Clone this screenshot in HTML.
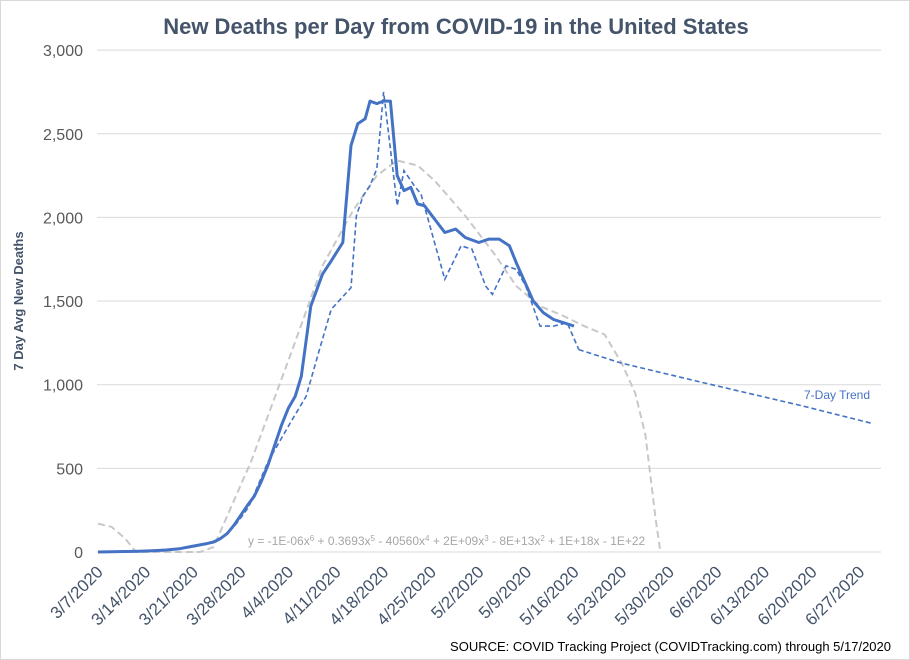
<!DOCTYPE html>
<html><head><meta charset="utf-8"><style>
body{margin:0;background:#fff;font-family:"Liberation Sans",sans-serif}
#wrap{width:908px;height:658px;border:1px solid #d9d9d9;position:relative;overflow:hidden}
</style></head><body>
<div id="wrap">
<svg id="chart" width="910" height="660"></svg>
</div>
<script>
const ticks=[0,500,1000,1500,2000,2500,3000];
const dateLabels=["3/7/2020","3/14/2020","3/21/2020","3/28/2020","4/4/2020","4/11/2020","4/18/2020","4/25/2020","5/2/2020","5/9/2020","5/16/2020","5/23/2020","5/30/2020","6/6/2020","6/13/2020","6/20/2020","6/27/2020"];
const avgDays=[0,2,4,6,8,10,12,14,16,17,18,19,20,21,22,23,24,25,26,27,28,29,29.9,31.3,33,34.3,36,37.2,38.2,39.3,40,41,42,43,44,45,46,47,48,51,52.6,54,56,57.5,59,60.5,61.5,64,65.5,67,70];
const avgVals=[0,1,3,5,8,12,20,35,50,60,80,110,160,220,280,335,420,520,640,760,860,930,1050,1470,1660,1740,1850,2430,2560,2590,2695,2680,2695,2695,2250,2160,2180,2080,2070,1910,1930,1880,1850,1870,1870,1830,1730,1500,1430,1390,1350];
const dailyDays=[0,5,10,14,17,18,20,22,22.5,25,28.4,30.6,32.5,34.3,37.2,38,39,40,41,42,44,45,46.5,47.5,51,53.4,55,57,58,60,61.5,62.9,65,67,69,70.7];
const dailyVals=[0,2,8,30,60,80,150,260,300,540,780,930,1200,1450,1580,2010,2130,2190,2290,2750,2070,2280,2190,2140,1630,1830,1810,1590,1540,1710,1690,1590,1350,1350,1370,1210];
const trendDays=[70.7,76.9,88.7,103.4,113.7];
const trendVals=[1210,1130,1015,875,770];
const polyDays=[0,2,4,5.6,15,17,22.5,28.5,33,37.5,41,44,47,49.5,54,58.5,61.5,65,68.5,71.5,74.5,77,79,80.5,82,82.7];
const polyVals=[170,150,80,0,0,30,540,1200,1710,2040,2250,2340,2310,2220,2010,1770,1590,1470,1410,1350,1300,1130,950,700,200,0];
const X=d=>97+6.8*d, Y=v=>551-v*0.1673;
const svg=document.getElementById('chart');const NS="http://www.w3.org/2000/svg";
function el(t,a,p){const e=document.createElementNS(NS,t);for(const k in a)e.setAttribute(k,a[k]);(p||svg).appendChild(e);return e;}
let t=el('text',{x:455,y:33,'text-anchor':'middle','font-size':22,'font-weight':'bold',fill:'#44546a'});t.textContent='New Deaths per Day from COVID-19 in the United States';

ticks.forEach(v=>{const g=el('line',{x1:96,x2:880,y1:Y(v),y2:Y(v),stroke:'#d9d9d9','stroke-width':1});

const l=el('text',{x:82,y:Y(v)+6,'text-anchor':'end','font-size':16,fill:'#595959'});l.textContent=v.toLocaleString('en-US');
});
dateLabels.forEach((s,i)=>{const x=X(i*7)+6,y=572;const l=el('text',{x:x,y:y,'text-anchor':'end','font-size':17,fill:'#44546a',transform:`rotate(-45 ${x} ${y})`});l.textContent=s;
});
let yt=el('text',{x:22,y:300,'text-anchor':'middle','font-size':13,'font-weight':'bold',fill:'#44546a',transform:'rotate(-90 22 300)'});yt.textContent='7 Day Avg New Deaths';

const pts=(ds,vs)=>ds.map((d,i)=>X(d).toFixed(1)+','+Y(vs[i]).toFixed(1)).join(' ');
let p=el('polyline',{points:pts(polyDays,polyVals),fill:'none',stroke:'#c8c8c8','stroke-width':2,'stroke-dasharray':'7,4'});

p=el('polyline',{points:pts(dailyDays,dailyVals),fill:'none',stroke:'#4472c4','stroke-width':1.6,'stroke-dasharray':'5,3'});

p=el('polyline',{points:pts(trendDays,trendVals),fill:'none',stroke:'#4472c4','stroke-width':1.6,'stroke-dasharray':'5,3'});

p=el('polyline',{points:pts(avgDays,avgVals),fill:'none',stroke:'#4472c4','stroke-width':3,'stroke-linejoin':'round'});

t=el('text',{x:803,y:398,'font-size':12,fill:'#4472c4'});t.textContent='7-Day Trend';

t=el('text',{x:247,y:544,'font-size':12,fill:'#a6a6a6'});t.innerHTML='y = -1E-06x<tspan font-size="8" dy="-4">6</tspan><tspan dy="4"> + 0.3693x</tspan><tspan font-size="8" dy="-4">5</tspan><tspan dy="4"> - 40560x</tspan><tspan font-size="8" dy="-4">4</tspan><tspan dy="4"> + 2E+09x</tspan><tspan font-size="8" dy="-4">3</tspan><tspan dy="4"> - 8E+13x</tspan><tspan font-size="8" dy="-4">2</tspan><tspan dy="4"> + 1E+18x - 1E+22</tspan>';

t=el('text',{x:890,y:650,'text-anchor':'end','font-size':13,fill:'#000'});t.textContent='SOURCE: COVID Tracking Project (COVIDTracking.com) through 5/17/2020';

</script>
</body></html>
